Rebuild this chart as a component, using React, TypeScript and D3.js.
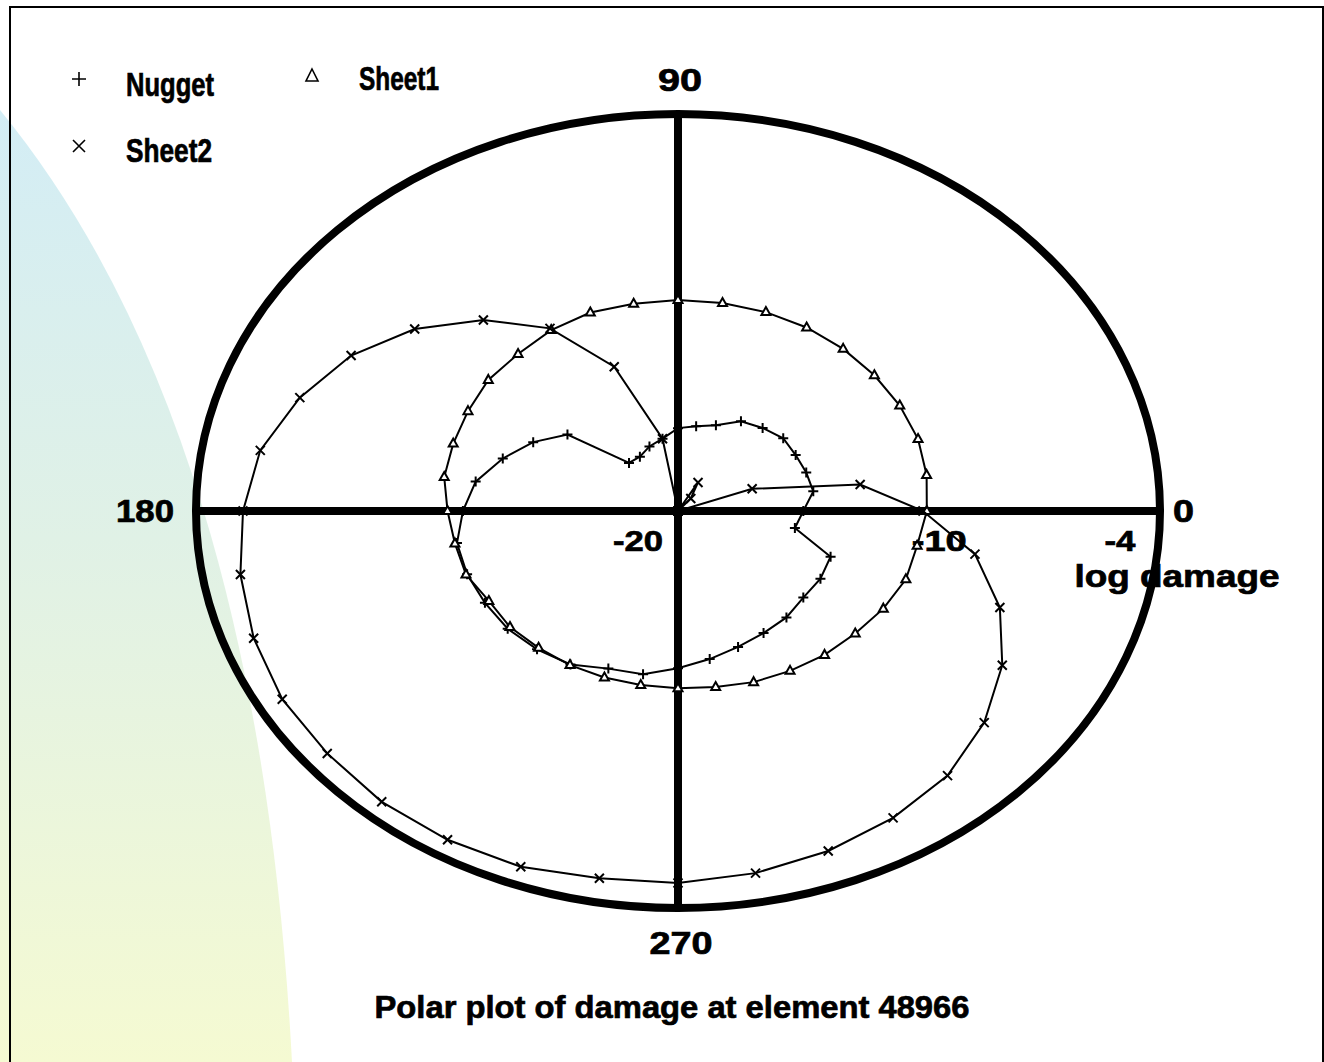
import * as d3 from "d3";

// angle of each reading, degrees
const angles = [
  0, 10, 20, 30, 40, 50, 60, 70, 80, 90, 100, 110, 120, 130, 140, 150, 160, 170,
  180, 190, 200, 210, 220, 230, 240, 250, 260, 270, 280, 290, 300, 310, 320, 330, 340, 350,
];

// log damage per angle
const nugget = [
  -15.84, -15.44, -15.47, -15.49, -15.44, -15.63, -15.82, -16.32, -16.53, -16.66, -17.04, -17.23,
  -17.47, -17.47, -15.21, -14.45, -13.81, -13.18, -12.86, -12.55, -12.55, -12.6, -12.62, -12.72,
  -12.86, -13.24, -13.32, -13.66, -13.94, -14.17, -14.32, -14.4, -14.57, -14.54, -14.61, -16.06,
];
const sheet1 = [
  -11.74, -11.62, -11.52, -11.5, -11.49, -11.47, -11.46, -11.47, -11.49, -11.5, -11.52, -11.49,
  -11.58, -11.74, -11.78, -11.95, -12.06, -12.12, -12.35, -12.48, -12.51, -12.75, -12.72, -12.8,
  -12.83, -12.86, -12.88, -12.86, -12.8, -12.66, -12.56, -12.43, -12.32, -12.13, -11.95, -11.94,
];
const sheet2 = [
  -11.87, -13.86, -17.38, -21, -21, -19.34, -18.67, -21, -21, -21, -17.04, -13.81,
  -11.5, -9.95, -8.59, -7.47, -6.64, -5.92, -5.56, -5.25, -5.01, -4.83, -4.8, -4.7,
  -4.7, -4.74, -4.97, -5.01, -5.18, -5.42, -5.72, -6.08, -6.73, -7.57, -8.63, -9.99,
];

const seriesNames = ["Nugget", "Sheet1", "Sheet2"];
const angleLabels = [0, 90, 180, 270];
const radialTicks = [-20, -10, -4];
const radialTitle = "log damage";
const title = "Polar plot of damage at element 48966";

const CX = 678;
const CY = 511;
const RX = 482;
const RY = 397;
const FONT = "'Liberation Sans', Arial, sans-serif";

const rScale = d3.scaleLinear().domain([-20, -4]).range([0, 1]).clamp(true);

const px = (deg: number, r: number) => CX + r * RX * Math.cos((deg * Math.PI) / 180);
const py = (deg: number, r: number) => CY - r * RY * Math.sin((deg * Math.PI) / 180);

const markers: Record<string, string> = {
  Nugget: "M-5,0H5M0,-5V5",
  Sheet1: "M0,-5L4.5,3L-4.5,3Z",
  Sheet2: "M-4.5,-4.5L4.5,4.5M-4.5,4.5L4.5,-4.5",
};
const legendMarkers: Record<string, string> = {
  Nugget: "M-7,0H7M0,-7V7",
  Sheet1: "M0,-7L6,5L-6,5Z",
  Sheet2: "M-6,-6L6,6M-6,6L6,-6",
};

export default function App() {
  const series = [
    { name: "Nugget", values: nugget },
    { name: "Sheet1", values: sheet1 },
    { name: "Sheet2", values: sheet2 },
  ];

  const line = d3
    .line<[number, number]>()
    .x((d) => px(d[0], rScale(d[1])))
    .y((d) => py(d[0], rScale(d[1])))
    .curve(d3.curveLinearClosed);

  const labelWidth: Record<number, number> = { 0: 21, 90: 44, 180: 58, 270: 63 };
  const tickWidth: Record<number, number> = { [-20]: 50, [-10]: 55, [-4]: 31 };

  return (
    <svg
      width={1324}
      height={1062}
      style={{ position: "absolute", left: 0, top: 0, background: "#fff" }}
      fontFamily={FONT}
      fontWeight="bold"
    >
      <defs>
        <linearGradient id="bg" x1="0" y1="0" x2="0" y2="1">
          <stop offset="0%" stopColor="#d3edf5" />
          <stop offset="45%" stopColor="#e0f1e6" />
          <stop offset="100%" stopColor="#f5fad2" />
        </linearGradient>
      </defs>
      <path d="M0,110 Q258,425 292,1062 L0,1062 Z" fill="url(#bg)" />
      <rect x={10} y={7} width={1313} height={1060} fill="none" stroke="#000" strokeWidth={2} />

      {/* frame of the polar plot */}
      <line x1={CX - RX} y1={CY} x2={CX + RX} y2={CY} stroke="#000" strokeWidth={8} />
      <line x1={CX} y1={CY - RY} x2={CX} y2={CY + RY} stroke="#000" strokeWidth={8} />
      <ellipse cx={CX} cy={CY} rx={RX} ry={RY} fill="none" stroke="#000" strokeWidth={8} />

      <g stroke="#000" strokeWidth={0.7}>
        {/* angle labels */}
        {angleLabels.map((a) => {
          const x = px(a, 1);
          const y = py(a, 1);
          let tx = x,
            ty = y,
            anchor = "middle";
          if (a === 0) {
            tx = x + 13;
            ty = y + 11;
            anchor = "start";
          } else if (a === 90) {
            tx = x + 2;
            ty = y - 23;
          } else if (a === 180) {
            tx = x - 22;
            ty = y + 11;
            anchor = "end";
          } else {
            tx = x + 3;
            ty = y + 46;
          }
          return (
            <text
              key={a}
              x={tx}
              y={ty}
              fontSize={31}
              textAnchor={anchor}
              textLength={labelWidth[a]}
              lengthAdjust="spacingAndGlyphs"
            >
              {a}
            </text>
          );
        })}

        {/* radial labels */}
        {radialTicks.map((t) => (
          <text
            key={t}
            x={px(0, rScale(t)) - 40}
            y={551}
            fontSize={30}
            textAnchor="middle"
            textLength={tickWidth[t]}
            lengthAdjust="spacingAndGlyphs"
          >
            {String(t)}
          </text>
        ))}
        <text
          x={px(0, 1) + 17}
          y={587}
          fontSize={31}
          textAnchor="middle"
          textLength={205}
          lengthAdjust="spacingAndGlyphs"
        >
          {radialTitle}
        </text>

        {/* legend labels */}
        {seriesNames.map((n, i) => {
          const col = i === 1 ? 1 : 0;
          const row = i === 2 ? 1 : 0;
          const mx = col ? 312 : 79;
          const widths = [88, 80, 86];
          return (
            <text
              key={n}
              x={mx + 47}
              y={col ? 90 : row ? 162 : 96}
              fontSize={33}
              textLength={widths[i]}
              lengthAdjust="spacingAndGlyphs"
            >
              {n}
            </text>
          );
        })}

        <text
          x={672}
          y={1018}
          fontSize={32}
          textAnchor="middle"
          textLength={595}
          lengthAdjust="spacingAndGlyphs"
        >
          {title}
        </text>
      </g>

      {/* legend markers */}
      {seriesNames.map((n, i) => {
        const col = i === 1 ? 1 : 0;
        const row = i === 2 ? 1 : 0;
        const mx = col ? 312 : 79;
        const my = row ? 146 : col ? 76 : 79;
        return (
          <path
            key={n}
            d={legendMarkers[n]}
            transform={`translate(${mx},${my})`}
            fill="none"
            stroke="#000"
            strokeWidth={1.6}
          />
        );
      })}

      {/* series */}
      {series.map((s) => {
        const pts = angles.map((a, i) => [a, s.values[i]] as [number, number]);
        return (
          <g key={s.name}>
            <path d={line(pts) || ""} fill="none" stroke="#000" strokeWidth={2} />
            {pts.map((p, i) => (
              <path
                key={i}
                d={markers[s.name]}
                transform={`translate(${px(p[0], rScale(p[1]))},${py(p[0], rScale(p[1]))})`}
                fill={s.name === "Sheet1" ? "#fff" : "none"}
                stroke="#000"
                strokeWidth={2}
              />
            ))}
          </g>
        );
      })}
    </svg>
  );
}
